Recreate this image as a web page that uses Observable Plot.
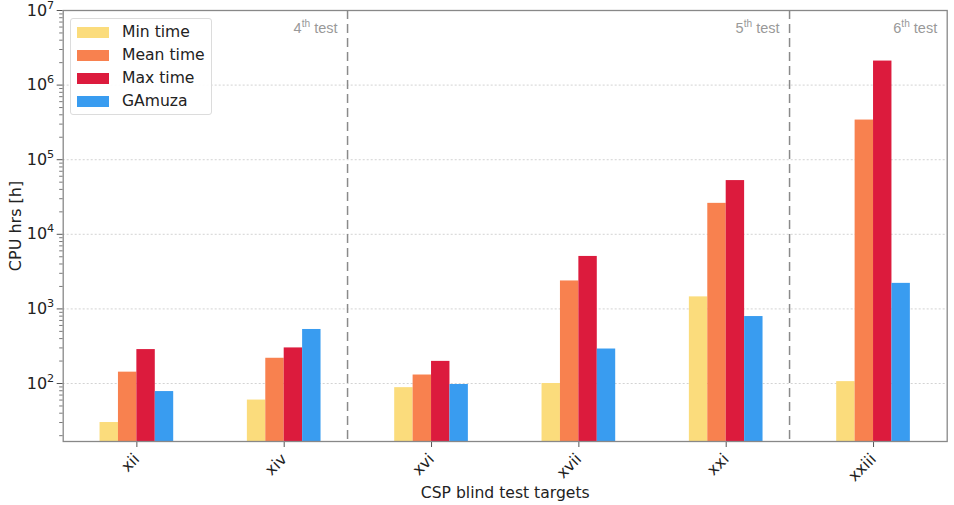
<!DOCTYPE html>
<html>
<head>
<meta charset="utf-8">
<script src="https://cdn.jsdelivr.net/npm/d3@7"></script>
<script src="https://cdn.jsdelivr.net/npm/@observablehq/plot@0.6"></script>
<style>
  body { margin: 0; background: #fff; font-family: "DejaVu Sans", sans-serif; }
  #wrap { position: relative; width: 954px; height: 505px; }
  #legend { position: absolute; left: 70px; top: 18px; width: 142px; height: 97px;
    border: 1px solid #dcdcdc; border-radius: 3px; background: rgba(255,255,255,0.9);
    box-sizing: border-box; padding-top: 1.5px; }
  .row { display: flex; align-items: center; height: 23px; font-size: 15.6px; color: #222; }
  .sw { width: 32px; height: 11px; margin-left: 6px; margin-right: 13px; }
</style>
</head>
<body>
<div id="wrap"><div id="legend"></div></div>
<script>
const categories = ["xii", "xiv", "xvi", "xvii", "xxi", "xxiii"];
const seriesNames = ["Min time", "Mean time", "Max time", "GAmuza"];
const minTime  = [30, 60, 88, 100, 1450, 106];
const meanTime = [142, 218, 130, 2370, 26000, 340000];
const maxTime  = [285, 300, 198, 5050, 52500, 2100000];
const gamuza   = [78, 530, 97, 290, 790, 2200];
const seriesColors = ["#fbdc7c", "#f8814f", "#dc1b3d", "#399cf0"];
const majorTicks = [1e2, 1e3, 1e4, 1e5, 1e6, 1e7];
const gridValues = [1e2, 1e3, 1e4, 1e5, 1e6];
// test separators (as drawn, slightly left of the midpoints) and their labels
const testBoundaries = [1.43, 4.43];
const testLabels = [
  {pos: 1.43, label: "4^th^ test"},
  {pos: 4.43, label: "5^th^ test"},
  {pos: 5.5, label: "6^th^ test"}
];

const seriesValues = [minTime, meanTime, maxTime, gamuza];
const barW = 0.125;
const data = categories.flatMap((c, i) => seriesNames.map((s, j) => ({
  cat: c, i, j, series: s, value: seriesValues[j][i]
})));

const yMin = 16.7, yMax = 1e7;
const minorTicks = [];
for (let e = 1; e < 7; e++) for (let m = 2; m <= 9; m++) {
  const v = m * Math.pow(10, e);
  if (v > yMin && v < yMax) minorTicks.push(v);
}

const chart = Plot.plot({
  width: 954,
  height: 505,
  marginLeft: 62.7,
  marginRight: 7.3,
  marginTop: 10,
  marginBottom: 64,
  style: {fontFamily: "DejaVu Sans", fontSize: "15.6px", color: "#222", background: "transparent"},
  x: {domain: [-0.5, 5.5], axis: null},
  y: {type: "log", domain: [yMin, yMax], axis: null},
  color: {domain: seriesNames, range: seriesColors},
  marks: [
    Plot.ruleY(gridValues, {stroke: "#c8c8c8", strokeWidth: 0.8, strokeDasharray: "2,2"}),
    Plot.rectY(data, {
      x1: d => d.i + (d.j - 2) * barW,
      x2: d => d.i + (d.j - 1) * barW,
      y1: yMin,
      y2: "value",
      fill: "series"
    }),
    Plot.ruleX(testBoundaries, {stroke: "#8a8a8a", strokeWidth: 1.5, strokeDasharray: "9,5"}),
    Plot.text(testLabels, {
      x: "pos", text: "label", frameAnchor: "top", dy: 12, dx: -10,
      textAnchor: "end", fill: "#999", fontSize: 14.5, fontFamily: "Liberation Sans"
    }),
    Plot.axisY(minorTicks, {tickSize: 3.5, stroke: "#555", strokeWidth: 0.8, text: null, label: null}),
    Plot.axisY(majorTicks, {
      tickSize: 6, tickPadding: 3, stroke: "#555", fontSize: 16,
      tickFormat: d => "10^" + Math.round(Math.log10(d)) + "^",
      label: "CPU hrs [h]", labelAnchor: "center", labelArrow: "none", labelOffset: 54
    }),
    Plot.axisX([0, 1, 2, 3, 4, 5], {
      tickSize: 6, stroke: "#555", tickRotate: -45, tickPadding: 9,
      tickFormat: i => categories[i],
      label: "CSP blind test targets", labelAnchor: "center", labelArrow: "none", labelOffset: 56
    }),
    Plot.frame({stroke: "#888", strokeWidth: 1.3})
  ]
});
document.getElementById("wrap").prepend(chart);

// turn ^...^ markup into real superscript tspans
d3.select(chart).selectAll("text").each(function() {
  const t = this.textContent;
  if (!t.includes("^")) return;
  const parts = t.split("^");
  const el = d3.select(this);
  el.text(null);
  parts.forEach((p, k) => {
    if (!p) return;
    if (k % 2 === 1) {
      el.append("tspan").attr("font-size", "70%").attr("dy", "-0.62em").text(p);
    } else if (k > 0) {
      el.append("tspan").attr("dy", "0.434em").text(p);
    } else {
      el.append("tspan").text(p);
    }
  });
});

const legend = d3.select("#legend");
seriesNames.forEach((s, j) => {
  const row = legend.append("div").attr("class", "row");
  row.append("div").attr("class", "sw").style("background", seriesColors[j]);
  row.append("span").text(s);
});
</script>
</body>
</html>
